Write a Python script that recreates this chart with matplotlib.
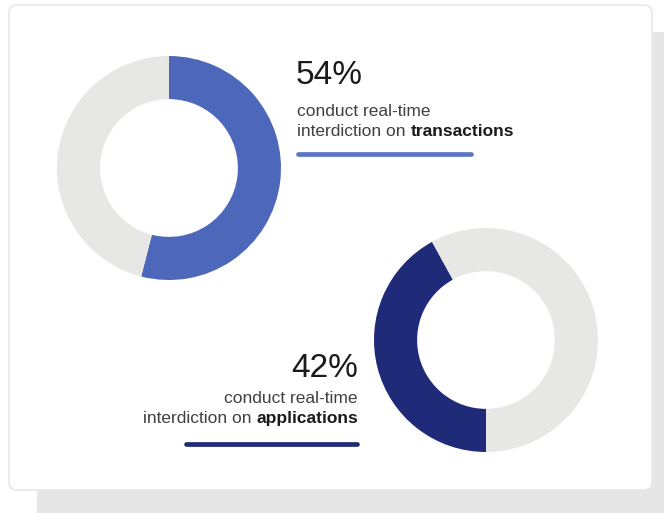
import matplotlib
matplotlib.use("Agg")
import matplotlib.pyplot as plt
from matplotlib.patches import FancyBboxPatch

# Data
pct_values = [54, 42]
pct_labels = ["54%", "42%"]
line1_text = ["conduct real-time", "conduct real-time"]
line2_plain = ["interdiction on ", "interdiction on "]
line2_bold = ["transactions", "applications"]
ring_colors = ["#4d68ba", "#1f2a78"]
bar_colors = ["#5a77c4", "#1f2a78"]
rest_color = "#e7e7e5"

W, H = 664, 513
plt.rcParams["font.family"] = ["Liberation Sans", "DejaVu Sans"]
fig = plt.figure(figsize=(W / 100, H / 100), dpi=100)
fig.patch.set_facecolor("white")

bg = fig.add_axes([0, 0, 1, 1])
bg.set_xlim(0, W)
bg.set_ylim(H, 0)
bg.axis("off")

# Card shadow and card
bg.add_patch(FancyBboxPatch((37, 32), W + 20 - 37, H + 20 - 32,
                            boxstyle="round,pad=0,rounding_size=8",
                            facecolor="#e6e6e6", edgecolor="none", zorder=0))
bg.add_patch(FancyBboxPatch((9, 5), 652 - 9, 490 - 5,
                            boxstyle="round,pad=0,rounding_size=8",
                            facecolor="white", edgecolor="#e8e8e8",
                            linewidth=1.2, zorder=1))


def donut(cx, cy, r, value, color, start):
    ax = fig.add_axes([(cx - r) / W, 1 - (cy + r) / H, 2 * r / W, 2 * r / H])
    ax.pie([value, 100 - value], colors=[color, rest_color], startangle=start,
           counterclock=False, radius=1.0,
           wedgeprops=dict(width=0.385, linewidth=0))
    ax.set_xlim(-1, 1)
    ax.set_ylim(-1, 1)
    ax.set_aspect("equal")
    ax.axis("off")


donut(169, 168, 112, pct_values[0], ring_colors[0], 90)
donut(486, 340, 112, pct_values[1], ring_colors[1], -90)

txt_col = "#404040"
bold_col = "#1a1a1a"
fs_small = 12.5
fs_big = 24

# Block 1 (left aligned)
bg.text(296, 84, pct_labels[0], fontsize=fs_big, color=bold_col, ha="left",
        va="baseline", zorder=3)
bg.text(297, 116, line1_text[0], fontsize=fs_small, color=txt_col, ha="left",
        va="baseline", zorder=3)
t1 = bg.text(297, 136, line2_plain[0], fontsize=fs_small, color=txt_col,
             ha="left", va="baseline", zorder=3)
bg.annotate(line2_bold[0], xy=(1, 0), xycoords=t1, ha="left", va="bottom",
            fontsize=fs_small, fontweight="bold", color=bold_col, zorder=3)
bg.plot([298, 471], [154, 154], color=bar_colors[0], lw=3.4,
        solid_capstyle="round", zorder=3)

# Block 2 (right aligned)
bg.text(358, 377, pct_labels[1], fontsize=fs_big, color=bold_col, ha="right",
        va="baseline", zorder=3)
bg.text(358, 403, line1_text[1], fontsize=fs_small, color=txt_col, ha="right",
        va="baseline", zorder=3)
t2 = bg.text(358, 423, line2_bold[1], fontsize=fs_small, fontweight="bold",
             color=bold_col, ha="right", va="baseline", zorder=3)
bg.annotate(line2_plain[1], xy=(0, 0), xycoords=t2, ha="right", va="bottom",
            fontsize=fs_small, color=txt_col, zorder=3)
bg.plot([186, 357], [444, 444], color=bar_colors[1], lw=3.4,
        solid_capstyle="round", zorder=3)

fig.savefig("out.png", dpi=100, facecolor="white")
